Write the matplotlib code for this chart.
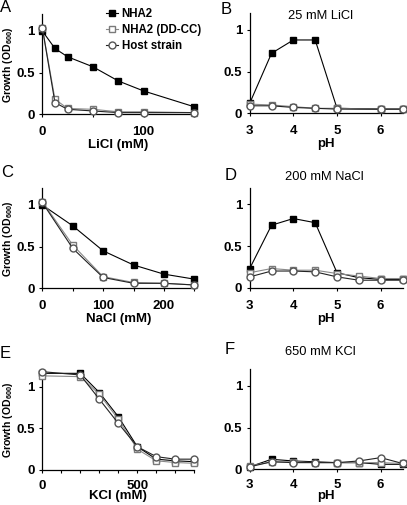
import matplotlib

matplotlib.use("Agg")
import matplotlib.pyplot as plt

plt.rcParams["font.family"] = ["Liberation Sans", "DejaVu Sans"]
plt.rcParams["mathtext.fontset"] = "custom"
plt.rcParams["mathtext.bf"] = "Liberation Sans:bold"
plt.rcParams["mathtext.rm"] = "Liberation Sans"

# --- data -------------------------------------------------------------
licl_mm = [0, 12.5, 25, 50, 75, 100, 150]
licl_nha2 = [1.0, 0.79, 0.69, 0.57, 0.40, 0.28, 0.09]
licl_ddcc = [1.04, 0.18, 0.07, 0.06, 0.03, 0.03, 0.02]
licl_host = [1.04, 0.14, 0.06, 0.04, 0.02, 0.02, 0.02]

ph_licl = [3, 3.5, 4, 4.5, 5, 6, 6.5]
phli_nha2 = [0.12, 0.72, 0.88, 0.88, 0.06, 0.05, 0.05]
phli_ddcc = [0.11, 0.10, 0.08, 0.06, 0.06, 0.05, 0.05]
phli_host = [0.09, 0.09, 0.07, 0.06, 0.05, 0.05, 0.05]

nacl_mm = [0, 50, 100, 150, 200, 250]
nacl_nha2 = [1.0, 0.75, 0.45, 0.28, 0.17, 0.11]
nacl_ddcc = [1.04, 0.52, 0.14, 0.07, 0.06, 0.04]
nacl_host = [1.03, 0.48, 0.13, 0.06, 0.06, 0.04]

ph_nacl = [3, 3.5, 4, 4.5, 5, 5.5, 6, 6.5]
phna_nha2 = [0.23, 0.75, 0.83, 0.78, 0.18, 0.12, 0.10, 0.10]
phna_ddcc = [0.18, 0.23, 0.21, 0.21, 0.17, 0.14, 0.11, 0.11]
phna_host = [0.13, 0.20, 0.20, 0.19, 0.13, 0.09, 0.09, 0.09]

kcl_mm = [0, 200, 300, 400, 500, 600, 700, 800]
kcl_nha2 = [1.16, 1.16, 0.93, 0.64, 0.28, 0.13, 0.11, 0.10]
kcl_ddcc = [1.13, 1.12, 0.91, 0.61, 0.25, 0.11, 0.09, 0.08]
kcl_host = [1.18, 1.14, 0.85, 0.56, 0.28, 0.16, 0.13, 0.13]

ph_kcl = [3, 3.5, 4, 4.5, 5, 5.5, 6, 6.5]
phk_nha2 = [0.03, 0.12, 0.10, 0.09, 0.08, 0.08, 0.06, 0.06]
phk_ddcc = [0.04, 0.09, 0.09, 0.08, 0.08, 0.08, 0.08, 0.07]
phk_host = [0.03, 0.09, 0.08, 0.08, 0.08, 0.10, 0.14, 0.07]

series_names = ["NHA2", "NHA2 (DD-CC)", "Host strain"]
ph_ticks = [3, 4, 5, 6]
ph_labels = {3: "3", 4: "4", 5: "5", 6: "6"}

W, H = 407, 505
fig = plt.figure(figsize=(W / 100, H / 100), dpi=100)


def px_axes(left, bottom, right, top):
    """Axes placed by pixel edges (top-left origin)."""
    return fig.add_axes([left / W, 1 - bottom / H, (right - left) / W, (bottom - top) / H])


def draw(ax, x, nha2, ddcc, host, xlim, ticks, labels, xlabel, ylabel, xpad=6, labelpad=1):
    kw = dict(lw=0.8, clip_on=False)
    ax.plot(x, nha2, "-s", color="black", mfc="black", mec="black", ms=4.6,
            zorder=3, label=series_names[0], **kw)
    ax.plot(x, ddcc, "-s", color="#8a8a8a", mfc="white", mec="#7a7a7a", ms=4.6,
            zorder=4, label=series_names[1], **kw)
    ax.plot(x, host, "-o", color="#222222", mfc="white", mec="#555555", ms=5.0,
            zorder=5, label=series_names[2], **kw)
    ax.set_xlim(*xlim)
    ax.set_ylim(0, 1.2)
    ax.set_xticks(ticks)
    ax.set_xticklabels([labels.get(t, "") for t in ticks])
    ax.set_yticks([0, 0.5, 1])
    ax.set_yticklabels(["0", "0.5", "1"])
    for s in ("top", "right"):
        ax.spines[s].set_visible(False)
    for s in ("left", "bottom"):
        ax.spines[s].set_linewidth(0.9)
    ax.tick_params(direction="out", length=2.5, width=0.8, labelsize=9.5)
    ax.tick_params(axis="x", pad=xpad)
    ax.tick_params(axis="y", pad=3)
    for lab in ax.get_xticklabels() + ax.get_yticklabels():
        lab.set_fontweight("bold")
    ax.set_xlabel(xlabel, fontsize=9.5, fontweight="bold", labelpad=labelpad)
    if ylabel:
        ax.set_ylabel(r"Growth (OD$_{\mathbf{600}}$)", fontsize=7.6, fontweight="bold")
        ax.yaxis.label.set_va("center")
        ax.yaxis.set_label_coords(-0.225, 0.5)


axA = px_axes(42.3, 114.3, 194.3, 14.3)
draw(axA, licl_mm, licl_nha2, licl_ddcc, licl_host, (0, 150),
     [0, 50, 100, 150], {0: "0", 100: "100"}, "LiCl (mM)", True)
axB = px_axes(249.7, 113.3, 402.5, 13.3)
draw(axB, ph_licl, phli_nha2, phli_ddcc, phli_host, (3, 6.5),
     ph_ticks, ph_labels, "pH", False)
axC = px_axes(42.3, 288.3, 194.3, 188.3)
draw(axC, nacl_mm, nacl_nha2, nacl_ddcc, nacl_host, (0, 250),
     [0, 50, 100, 150, 200, 250], {0: "0", 100: "100", 200: "200"}, "NaCl (mM)", True)
axD = px_axes(249.7, 287.7, 402.5, 187.7)
draw(axD, ph_nacl, phna_nha2, phna_ddcc, phna_host, (3, 6.5),
     ph_ticks, ph_labels, "pH", False)
axE = px_axes(42.3, 470, 194.3, 370)
draw(axE, kcl_mm, kcl_nha2, kcl_ddcc, kcl_host, (0, 800),
     list(range(0, 801, 100)), {0: "0", 500: "500"}, "KCl (mM)", True, xpad=4.5, labelpad=-1)
axF = px_axes(249.7, 469.3, 402.5, 369.3)
draw(axF, ph_kcl, phk_nha2, phk_ddcc, phk_host, (3, 6.5),
     ph_ticks, ph_labels, "pH", False, xpad=4.5, labelpad=-1)

# condition titles
titles = [("25 mM LiCl", 320.7, 16), ("200 mM NaCl", 324, 177), ("650 mM KCl", 320.7, 352)]
for t, x, y in titles:
    fig.text(x / W, 1 - y / H, t, ha="center", va="center", fontsize=9.3)

# panel letters
letters = [("A", 0, 8), ("B", 221, 9), ("C", 1, 172), ("D", 225, 175), ("E", 0, 353), ("F", 225, 349)]
for ch, x, y in letters:
    fig.text(x / W, 1 - y / H, ch, fontsize=12, ha="left", va="center")

axA.legend(loc="upper left", bbox_to_anchor=(106 / W, 1 - 8 / H), bbox_transform=fig.transFigure,
           frameon=False, handlelength=1.0, handletextpad=0.35, labelspacing=0.35,
           borderpad=0, borderaxespad=0, prop={"weight": "bold", "size": 8.3})

fig.savefig("out.png", dpi=100)
